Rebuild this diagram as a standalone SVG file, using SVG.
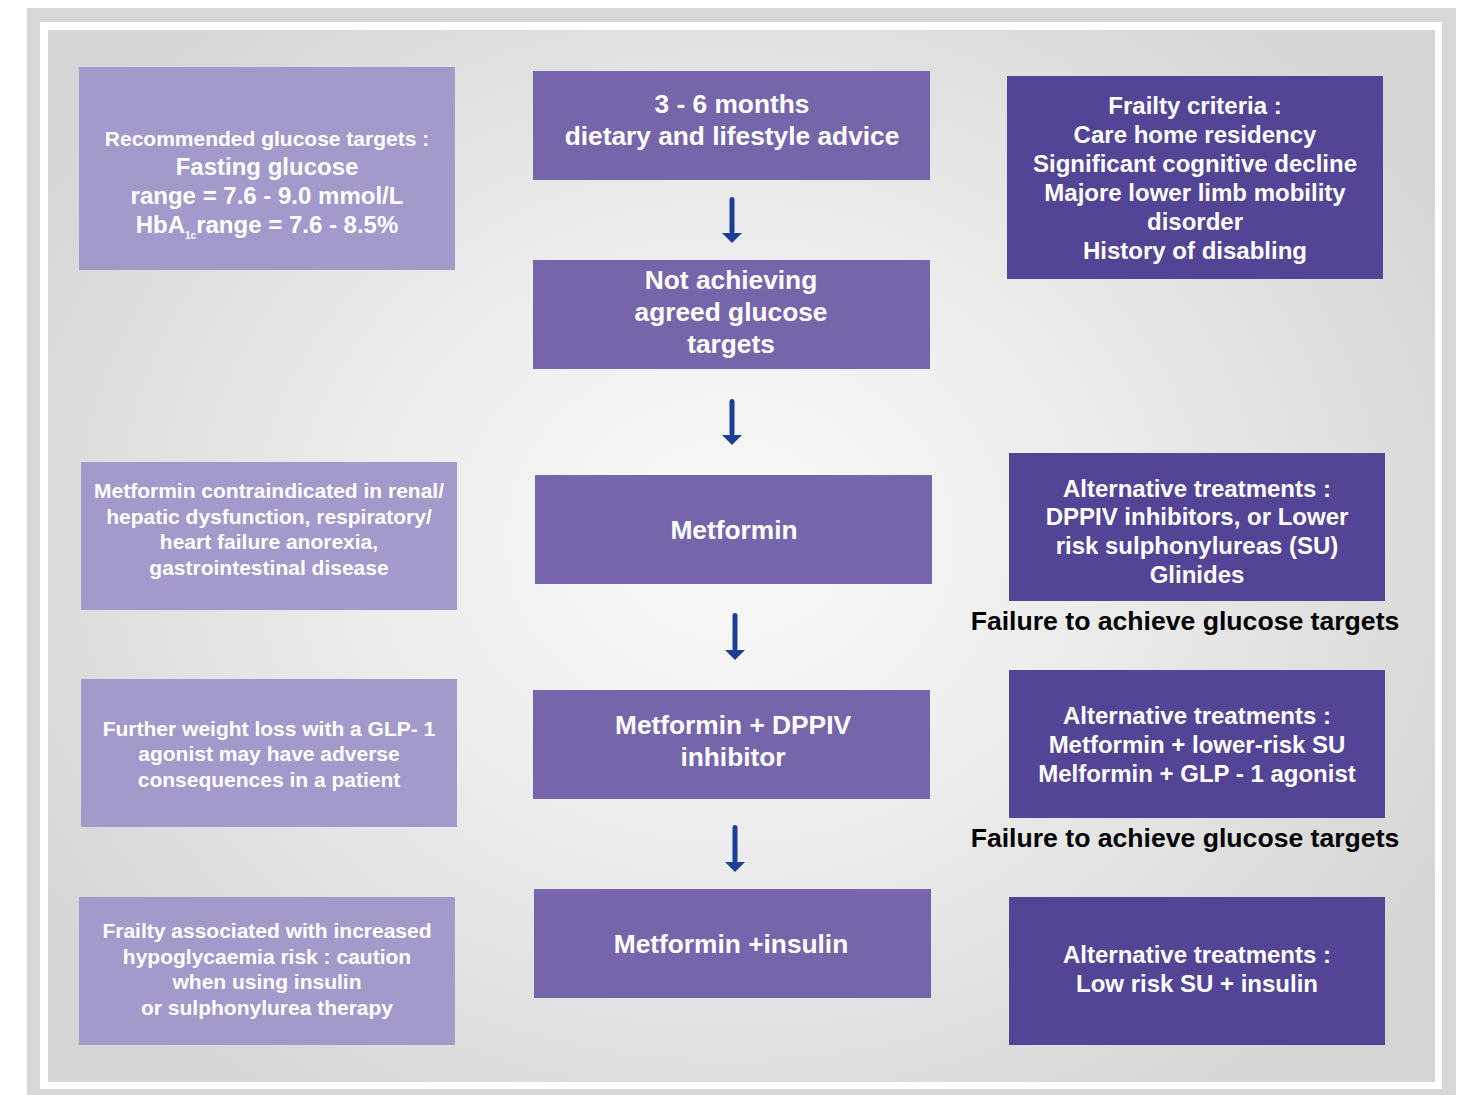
<svg xmlns="http://www.w3.org/2000/svg" width="1464" height="1095" viewBox="0 0 1464 1095">
<defs>
<radialGradient id="bg" cx="730" cy="540" r="820" gradientUnits="userSpaceOnUse" gradientTransform="translate(730 540) scale(1 0.85) translate(-730 -540)">
<stop offset="0" stop-color="#fafafa"/>
<stop offset="0.45" stop-color="#ececec"/>
<stop offset="1" stop-color="#d5d5d5"/>
</radialGradient>
</defs>
<style>
.lt{fill:#a399ca}
.md{fill:#7665aa}
.dk{fill:#544496}
text{font-family:"Liberation Sans",Arial,sans-serif;font-weight:bold;text-anchor:middle;fill:#ffffff}
.s21{font-size:21px}
.s24{font-size:24px}
.s26{font-size:26.3px}
.fail{font-size:26.6px;fill:#000000}
.arr{fill:#1b3f94}
</style>
<rect x="27" y="8" width="1429" height="1087" fill="#d7d7d7"/>
<rect x="40" y="22" width="1402" height="1067" fill="#ffffff"/>
<rect x="48" y="30" width="1387" height="1052" fill="url(#bg)"/>

<g id="n-targets">
<rect class="lt" x="79" y="67" width="376" height="203"/>
<text class="s21" x="267" y="146">Recommended glucose targets :</text>
<text class="s24" x="267" y="175">Fasting glucose</text>
<text class="s24" x="267" y="204">range = 7.6 - 9.0 mmol/L</text>
<text class="s24" x="267" y="233">HbA<tspan font-size="10" dy="6">1c</tspan><tspan dy="-6">range = 7.6 - 8.5%</tspan></text>
</g>
<g id="n-contra">
<rect class="lt" x="81" y="462" width="376" height="148"/>
<text class="s21" x="269" y="498">Metformin contraindicated in renal/</text>
<text class="s21" x="269" y="524">hepatic dysfunction, respiratory/</text>
<text class="s21" x="269" y="549">heart failure anorexia,</text>
<text class="s21" x="269" y="575">gastrointestinal disease</text>
</g>
<g id="n-glp">
<rect class="lt" x="81" y="679" width="376" height="148"/>
<text class="s21" x="269" y="736">Further weight loss with a GLP- 1</text>
<text class="s21" x="269" y="761">agonist may have adverse</text>
<text class="s21" x="269" y="787">consequences in a patient</text>
</g>
<g id="n-frailrisk">
<rect class="lt" x="79" y="897" width="376" height="148"/>
<text class="s21" x="267" y="938">Frailty associated with increased</text>
<text class="s21" x="267" y="964">hypoglycaemia risk : caution</text>
<text class="s21" x="267" y="989">when using insulin</text>
<text class="s21" x="267" y="1015">or sulphonylurea therapy</text>
</g>

<g id="n-diet">
<rect class="md" x="533" y="71" width="397" height="109"/>
<text class="s26" x="732" y="113">3 - 6 months</text>
<text class="s26" x="732" y="145">dietary and lifestyle advice</text>
</g>
<g id="n-notach">
<rect class="md" x="533" y="260" width="397" height="109"/>
<text class="s26" x="731" y="289">Not achieving</text>
<text class="s26" x="731" y="321">agreed glucose</text>
<text class="s26" x="731" y="353">targets</text>
</g>
<g id="n-metformin">
<rect class="md" x="535" y="475" width="397" height="109"/>
<text class="s26" x="734" y="539">Metformin</text>
</g>
<g id="n-dppiv">
<rect class="md" x="533" y="690" width="397" height="109"/>
<text class="s26" x="733" y="734">Metformin + DPPIV</text>
<text class="s26" x="733" y="766">inhibitor</text>
</g>
<g id="n-insulin">
<rect class="md" x="534" y="889" width="397" height="109"/>
<text class="s26" x="731" y="953">Metformin +insulin</text>
</g>

<g id="n-frailty">
<rect class="dk" x="1007" y="76" width="376" height="203"/>
<text class="s24" x="1195" y="114">Frailty criteria :</text>
<text class="s24" x="1195" y="143">Care home residency</text>
<text class="s24" x="1195" y="172">Significant cognitive decline</text>
<text class="s24" x="1195" y="201">Majore lower limb mobility</text>
<text class="s24" x="1195" y="230">disorder</text>
<text class="s24" x="1195" y="259">History of disabling</text>
</g>
<g id="n-alt1">
<rect class="dk" x="1009" y="453" width="376" height="148"/>
<text class="s24" x="1197" y="497">Alternative treatments :</text>
<text class="s24" x="1197" y="525">DPPIV inhibitors, or Lower</text>
<text class="s24" x="1197" y="554">risk sulphonylureas (SU)</text>
<text class="s24" x="1197" y="583">Glinides</text>
</g>
<g id="n-alt2">
<rect class="dk" x="1009" y="670" width="376" height="148"/>
<text class="s24" x="1197" y="724">Alternative treatments :</text>
<text class="s24" x="1197" y="753">Metformin + lower-risk SU</text>
<text class="s24" x="1197" y="782">Melformin + GLP - 1 agonist</text>
</g>
<g id="n-alt3">
<rect class="dk" x="1009" y="897" width="376" height="148"/>
<text class="s24" x="1197" y="963">Alternative treatments :</text>
<text class="s24" x="1197" y="992">Low risk SU + insulin</text>
</g>
<g id="labels">
<text class="fail" x="1185" y="630">Failure to achieve glucose targets</text>
<text class="fail" x="1185" y="847">Failure to achieve glucose targets</text>
</g>

<g id="connectors">
<rect class="arr" x="729.5" y="197" width="5" height="37" rx="2.5"/>
<polygon class="arr" points="722,233 742,233 732,243"/>
<rect class="arr" x="729.5" y="399" width="5" height="37" rx="2.5"/>
<polygon class="arr" points="722,435 742,435 732,445"/>
<rect class="arr" x="732.5" y="613" width="5" height="38" rx="2.5"/>
<polygon class="arr" points="725,650 745,650 735,660"/>
<rect class="arr" x="732.5" y="825" width="5" height="38" rx="2.5"/>
<polygon class="arr" points="725,862 745,862 735,872"/>
</g>
</svg>
